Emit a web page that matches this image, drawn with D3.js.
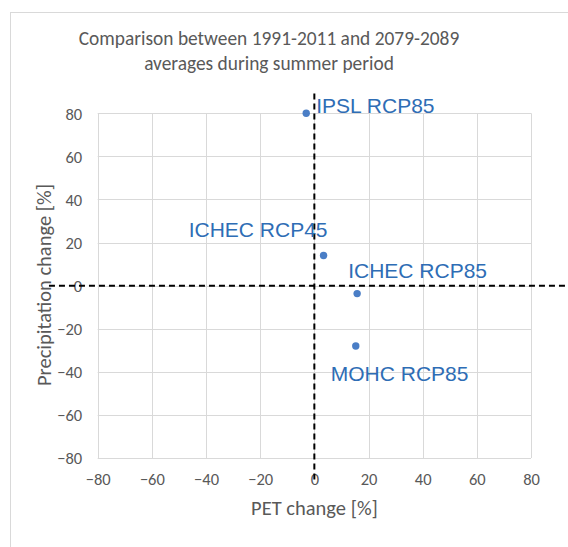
<!DOCTYPE html>
<html>
<head>
<meta charset="utf-8">
<script src="https://cdn.jsdelivr.net/npm/d3@7/dist/d3.min.js"></script>
<style>
  html, body { margin: 0; padding: 0; background: #fff; }
  svg { display: block; }
</style>
</head>
<body>
<svg id="chart" width="568" height="547"></svg>
<script>
// Scenario results: change in PET and precipitation (%), summer averages
const models = ["IPSL RCP85", "ICHEC RCP45", "ICHEC RCP85", "MOHC RCP85"];
const petChange = [-3, 3.4, 15.8, 15.3];
const precipChange = [80, 14, -3.7, -28];

const xTicks = [-80, -60, -40, -20, 0, 20, 40, 60, 80];
const yTicks = [-80, -60, -40, -20, 0, 20, 40, 60, 80];

// Reference cross through the origin (dashed guides)
const crossVertical = [[0, -90], [0, 90]];
const crossHorizontal = [[-98, 0], [100, 0]];

const titleLines = ["Comparison between 1991-2011 and 2079-2089", "averages during summer period"];
const xTitle = "PET change [%]";
const yTitle = "Precipitation change [%]";

// label placement for each point: pixel offset and anchor
const labelPlacement = [
  { dx: 10, dy: 0, anchor: "start" },
  { dx: 4, dy: -18, anchor: "end" },
  { dx: -9, dy: -16, anchor: "start" },
  { dx: -25, dy: 35, anchor: "start" }
];

const svg = d3.select("#chart");
const W = 568, H = 547;
const plot = { left: 97.7, right: 531, top: 113.3, bottom: 458 };

const sansCal = "Carlito, Lato, 'Open Sans', sans-serif";
const sansArial = "'Liberation Sans', Arial, sans-serif";
const gray = "#595959";

// chart frame
svg.append("rect")
  .attr("x", 10.5).attr("y", 12.5)
  .attr("width", W + 10).attr("height", H + 10)
  .attr("fill", "#fff").attr("stroke", "#d9d9d9").attr("stroke-width", 1);

const x = d3.scaleLinear().domain([-80, 80]).range([plot.left, plot.right]);
const y = d3.scaleLinear().domain([-80, 80]).range([plot.bottom, plot.top]);

// gridlines
const grid = svg.append("g").attr("stroke", "#d9d9d9").attr("stroke-width", 1);
grid.selectAll("line.v").data(xTicks).enter().append("line")
  .attr("x1", d => Math.round(x(d)) + 0.5).attr("x2", d => Math.round(x(d)) + 0.5)
  .attr("y1", plot.top).attr("y2", plot.bottom);
grid.selectAll("line.h").data(yTicks).enter().append("line")
  .attr("y1", d => Math.round(y(d)) + 0.5).attr("y2", d => Math.round(y(d)) + 0.5)
  .attr("x1", plot.left).attr("x2", plot.right);

// axes (labels only; lines come from the grid)
const xAxis = d3.axisBottom(x).tickValues(xTicks).tickSize(0).tickPadding(0);
const gx = svg.append("g").attr("transform", `translate(0, ${plot.bottom + 27})`).call(xAxis);
gx.select(".domain").remove();
gx.selectAll("text").attr("font-family", sansCal).attr("font-size", 16.5).attr("fill", gray).attr("dy", 0);

const yAxis = d3.axisLeft(y).tickValues(yTicks).tickSize(0).tickPadding(0);
const gy = svg.append("g").attr("transform", `translate(${plot.left - 15.5}, 0)`).call(yAxis);
gy.select(".domain").remove();
gy.selectAll("text").attr("font-family", sansCal).attr("font-size", 16.5).attr("fill", gray).attr("dy", "0.35em");

// title
svg.append("g").selectAll("text").data(titleLines).enter().append("text")
  .attr("x", 269).attr("y", (d, i) => 44.5 + i * 25.5)
  .attr("text-anchor", "middle")
  .attr("font-family", sansCal).attr("font-size", 19.4).attr("fill", gray)
  .text(d => d);

// axis titles
svg.append("text")
  .attr("x", 314.5).attr("y", 515)
  .attr("text-anchor", "middle")
  .attr("font-family", sansCal).attr("font-size", 20.5).attr("fill", gray)
  .text(xTitle);
svg.append("text")
  .attr("transform", `translate(51, 285) rotate(-90)`)
  .attr("text-anchor", "middle")
  .attr("font-family", sansCal).attr("font-size", 20.5).attr("fill", gray)
  .text(yTitle);

// dashed cross
const line = d3.line().x(d => x(d[0])).y(d => y(d[1]));
[crossVertical, crossHorizontal].forEach(seg => {
  svg.append("path").datum(seg)
    .attr("d", line)
    .attr("fill", "none").attr("stroke", "#000")
    .attr("stroke-width", 2).attr("stroke-dasharray", "6,4");
});

// points
const pts = models.map((m, i) => ({ name: m, px: petChange[i], py: precipChange[i], lab: labelPlacement[i] }));
svg.append("g").selectAll("circle").data(pts).enter().append("circle")
  .attr("cx", d => x(d.px)).attr("cy", d => y(d.py))
  .attr("r", 3.7).attr("fill", "#4a7ec6");

// point labels
svg.append("g").selectAll("text").data(pts).enter().append("text")
  .attr("x", d => x(d.px) + d.lab.dx)
  .attr("y", d => y(d.py) + d.lab.dy)
  .attr("text-anchor", d => d.lab.anchor)
  .attr("font-family", sansArial).attr("font-size", 21).attr("fill", "#2e6db5")
  .text(d => d.name);
</script>
</body>
</html>
